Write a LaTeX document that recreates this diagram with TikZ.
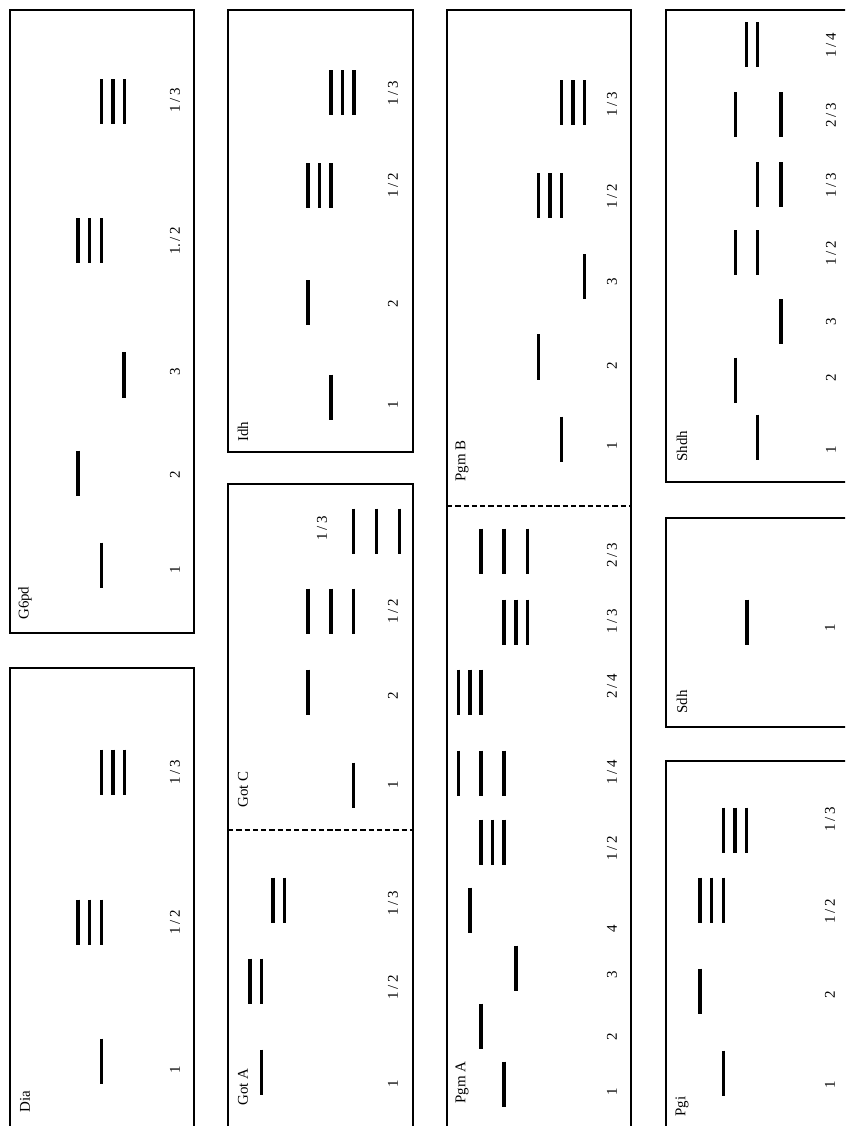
\documentclass[tikz,border=0pt]{standalone}
\usepackage{fontspec}
\setmainfont{Liberation Serif}
\newcommand\bnd[2]{\draw[bandline] (#1,#2-22.5) -- (#1,#2+22.5);}
\newcommand\bnds[2]{\foreach \xx in {#1}{\bnd{\xx}{#2}}}
\newcommand\fr[2]{#1\,/\,#2}
\begin{document}
\begin{tikzpicture}[x=0.75pt,y=-0.75pt,
  boxline/.style={draw=black,line width=0.85pt},
  divline/.style={draw=black,line width=0.85pt,dash pattern=on 4pt off 2.2pt},
  bandline/.style={line width=2.6pt,line cap=butt},
  numtxt/.style={rotate=90,font=\fontsize{11.2}{13}\selectfont,inner sep=0pt},
  nametxt/.style={rotate=90,anchor=west,font=\fontsize{11.2}{13}\selectfont,inner sep=0pt}]
\useasboundingbox (0,0) rectangle (845,1126);
\clip (0,0) rectangle (845,1126);
% ---------------- boxes
\draw[boxline] (10,10) rectangle (194,633);
\draw[boxline] (10,668) rectangle (194,1140);
\draw[boxline] (228,10) rectangle (413,452);
\draw[boxline] (228,484) rectangle (413,1140);
\draw[boxline] (447,10) rectangle (631,1140);
\draw[boxline] (666,10) rectangle (860,482);
\draw[boxline] (666,518) rectangle (860,727);
\draw[boxline] (666,761) rectangle (860,1140);
\coordinate (gotL) at (228,830); \coordinate (gotR) at (413,830);
\coordinate (pgmL) at (447,506); \coordinate (pgmR) at (631,506);
\draw[divline] (gotL) -- (gotR);
\draw[divline] (pgmL) -- (pgmR);
% ---------------- G6pd
\node[nametxt] (nG6pd) at (25,620) {G6pd};
\bnd{101.5}{565} \node[numtxt] (g1) at (175,570) {1};
\bnd{78}{473}    \node[numtxt] (g2) at (175,475) {2};
\bnd{124}{375}   \node[numtxt] (g3) at (175,372) {3};
\bnds{78,89.5,101.5}{241} \node[numtxt] (g12) at (175,241) {1.\,/\,2};
\bnds{101.5,113,124.5}{102} \node[numtxt] (g13) at (175,100) {\fr{1}{3}};
% ---------------- Dia
\node[nametxt] (nDia) at (25,1113) {Dia};
\bnd{101.5}{1061} \node[numtxt] (d1) at (175,1070) {1};
\bnds{78,89.5,101.5}{922} \node[numtxt] (d12) at (175,922) {\fr{1}{2}};
\bnds{101.5,113,124.5}{772} \node[numtxt] (d13) at (175,772) {\fr{1}{3}};
% ---------------- Idh
\node[nametxt] (nIdh) at (243,442) {Idh};
\bnd{331}{397} \node[numtxt] (i1) at (393,405) {1};
\bnd{308}{303} \node[numtxt] (i2) at (393,304) {2};
\bnds{308,319.5,331}{186} \node[numtxt] (i12) at (393,185) {\fr{1}{2}};
\bnds{331,342.5,354}{93} \node[numtxt] (i13) at (393,93) {\fr{1}{3}};
% ---------------- Got C
\node[nametxt] (nGotC) at (243,808) {Got C};
\bnd{353.5}{785} \node[numtxt] (c1) at (393,785) {1};
\bnd{308}{692}   \node[numtxt] (c2) at (393,696) {2};
\bnds{308,331,353.5}{611} \node[numtxt] (c12) at (393,611) {\fr{1}{2}};
\bnds{353.5,376.5,399.5}{531} \node[numtxt] (c13) at (322,528) {\fr{1}{3}};
% ---------------- Got A
\node[nametxt] (nGotA) at (243,1106) {Got A};
\bnd{261.5}{1072} \node[numtxt] (a1) at (393,1084) {1};
\bnds{250,261.5}{981} \node[numtxt] (a12) at (393,987) {\fr{1}{2}};
\bnds{273,284.5}{900} \node[numtxt] (a13) at (393,903) {\fr{1}{3}};
% ---------------- Pgm B
\node[nametxt] (nPgmB) at (462,482) {Pgm B};
\bnd{561.5}{439} \node[numtxt] (b1) at (612,446) {1};
\bnd{538.5}{357} \node[numtxt] (b2) at (612,366) {2};
\bnd{584.5}{277} \node[numtxt] (b3) at (612,282) {3};
\bnds{538.5,550,561.5}{196} \node[numtxt] (b12) at (612,196) {\fr{1}{2}};
\bnds{561.5,573,584.5}{103} \node[numtxt] (b13) at (612,104) {\fr{1}{3}};
% ---------------- Pgm A
\node[nametxt] (nPgmA) at (462,1104) {Pgm A};
\bnd{504}{1084} \node[numtxt] (p1) at (612,1092) {1};
\bnd{481}{1026} \node[numtxt] (p2) at (612,1037) {2};
\bnd{516}{968}  \node[numtxt] (p3) at (612,975) {3};
\bnd{470}{910}  \node[numtxt] (p4) at (612,929) {4};
\bnds{481,492.5,504}{842} \node[numtxt] (p12) at (612,848) {\fr{1}{2}};
\bnds{458.5,481,504}{773} \node[numtxt] (p14) at (612,772) {\fr{1}{4}};
\bnds{458.5,470,481}{692} \node[numtxt] (p24) at (612,686) {\fr{2}{4}};
\bnds{504,516,527.5}{622} \node[numtxt] (p13) at (612,621) {\fr{1}{3}};
\bnds{481,504,527.5}{551} \node[numtxt] (p23) at (612,555) {\fr{2}{3}};
% ---------------- Shdh
\node[nametxt] (nShdh) at (682,462) {Shdh};
\bnd{757.7}{437} \node[numtxt] (s1) at (831,450) {1};
\bnd{735.7}{380} \node[numtxt] (s2) at (831,378) {2};
\bnd{781}{322}   \node[numtxt] (s3) at (831,322) {3};
\bnds{735.7,757.7}{253} \node[numtxt] (s12) at (831,253) {\fr{1}{2}};
\bnds{757.7,781}{185}   \node[numtxt] (s13) at (831,185) {\fr{1}{3}};
\bnds{735.7,781}{115}   \node[numtxt] (s23) at (831,115) {\fr{2}{3}};
\bnds{746.7,757.7}{45}  \node[numtxt] (s14) at (831,45) {\fr{1}{4}};
% ---------------- Sdh
\node[nametxt] (nSdh) at (682,714) {Sdh};
\bnd{747}{622} \node[numtxt] (sd1) at (830,628) {1};
% ---------------- Pgi
\node[nametxt] (nPgi) at (682,1117) {Pgi};
\bnd{723.7}{1073} \node[numtxt] (q1) at (830,1085) {1};
\bnd{700}{991}    \node[numtxt] (q2) at (830,995) {2};
\bnds{700,711.7,723.7}{900} \node[numtxt] (q12) at (830,911) {\fr{1}{2}};
\bnds{723.7,735,746.7}{830} \node[numtxt] (q13) at (830,819) {\fr{1}{3}};
\end{tikzpicture}
\end{document}
